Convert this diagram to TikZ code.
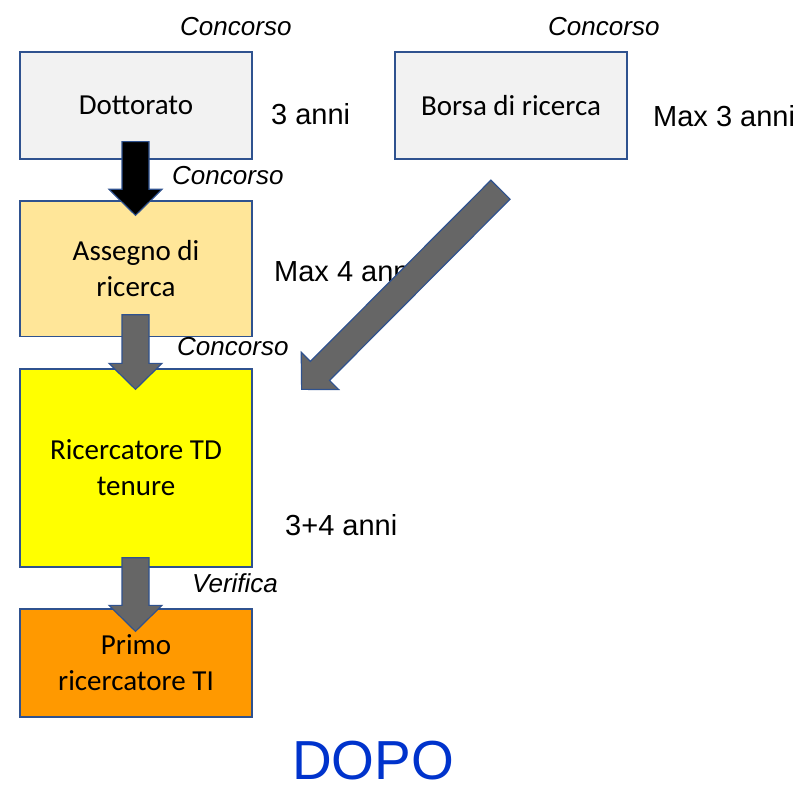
\documentclass[tikz,border=0pt]{standalone}
\usepackage{fontspec}
\setmainfont{Liberation Sans}
\newfontfamily\boxfont{Carlito}
\usetikzlibrary{calc}
\definecolor{bordo}{HTML}{2F528F}
\definecolor{grigio}{HTML}{F2F2F2}
\definecolor{giallino}{HTML}{FFE699}
\definecolor{giallo}{HTML}{FFFF00}
\definecolor{arancio}{HTML}{FF9900}
\definecolor{freccia}{HTML}{666666}
\definecolor{blu}{HTML}{0033CC}
\newcommand{\myblockarrow}[3]{%
  \coordinate (hb) at ($(#3)!26pt!(#2)$);
  \filldraw[barrow, fill=#1]
    ($(#2)!13.5pt!90:(#3)$) -- ($(hb)!13.5pt!-90:(#2)$) -- ($(hb)!26.5pt!-90:(#2)$)
    -- (#3) -- ($(hb)!26.5pt!90:(#2)$) -- ($(hb)!13.5pt!90:(#2)$)
    -- ($(#2)!13.5pt!-90:(#3)$) -- cycle;}
\begin{document}
\begin{tikzpicture}[x=1pt,y=-1pt,
  stepbox/.style={draw=bordo, line width=1.3pt, minimum width=232pt, inner sep=0pt,
    align=center, font=\boxfont\fontsize{29}{36}\selectfont},
  barrow/.style={draw=bordo, line width=1.2pt, line join=miter},
  lab/.style={anchor=base west, inner sep=0pt, font=\fontsize{29}{34}\selectfont},
  itlab/.style={anchor=base west, inner sep=0pt, font=\itshape\fontsize{26}{30}\selectfont}]
\useasboundingbox (0,0) rectangle (808,786);

% boxes
\node[stepbox, fill=grigio, minimum height=107pt] (dott) at (136,105.5) {Dottorato};
\node[stepbox, fill=grigio, minimum height=107pt] (borsa) at (511,105.5) {Borsa di ricerca};
\node[stepbox, fill=giallino, minimum height=135.5pt] (ass) at (136,268.75) {Assegno di\\ricerca};
\node[stepbox, fill=giallo, minimum height=198pt] (ric) at (136,468) {Ricercatore TD\\tenure};
\node[stepbox, fill=arancio, minimum height=108pt] (primo) at (136,663) {Primo\\ricercatore TI};

% labels
\node[itlab] (c1) at (180,36) {Concorso};
\node[itlab] (c2) at (548,36) {Concorso};
\node[lab] (d1) at (271,125) {3 anni};
\node[lab] (d2) at (653,127) {Max 3 anni};
\node[itlab] (c3) at (172,185) {Concorso};
\node[lab] (d3) at (274,281) {Max 4 anni};
\node[itlab] (c4) at (177,355) {Concorso};
\node[lab] (d4) at (285,535) {3+4 anni};
\node[itlab] (v1) at (192,592) {Verifica};
\node[anchor=base west, inner sep=0pt, text=blu, font=\fontsize{55}{60}\selectfont] (dopo) at (292,779) {DOPO};

% arrow endpoints
\coordinate (a1s) at ($(dott.south)+(-0.5,-18)$);
\coordinate (a1e) at ($(ass.north)+(-0.5,15)$);
\coordinate (a2s) at ($(ass.south)+(-0.5,-22.5)$);
\coordinate (a2e) at ($(ric.north)+(-0.5,21)$);
\coordinate (a3s) at ($(ric.south)+(-0.5,-10)$);
\coordinate (a3e) at ($(primo.north)+(-0.5,23)$);
\coordinate (a4s) at ($(borsa.south)+(-10.5,30)$);
\coordinate (a4e) at ($(ric.north east)+(49,21)$);

% arrows
\myblockarrow{black}{a1s}{a1e}
\myblockarrow{freccia}{a2s}{a2e}
\myblockarrow{freccia}{a3s}{a3e}
\myblockarrow{freccia}{a4s}{a4e}
\end{tikzpicture}
\end{document}
